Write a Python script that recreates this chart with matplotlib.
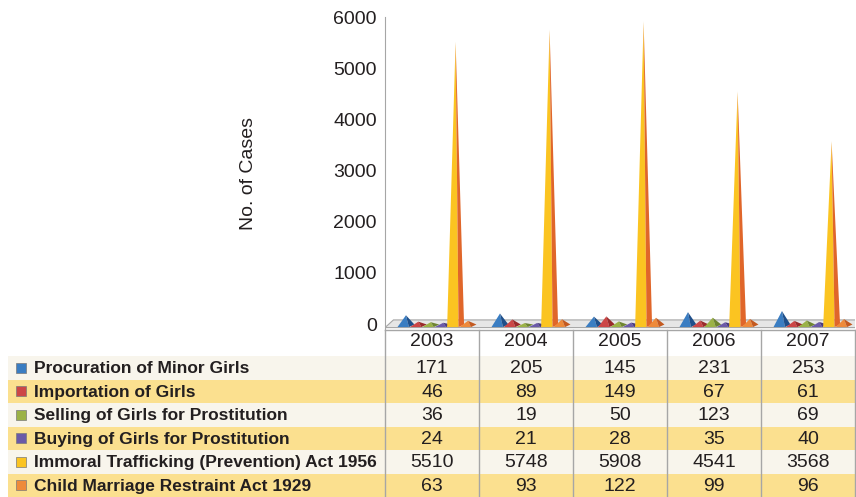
import matplotlib.pyplot as plt
from matplotlib.patches import Polygon, Rectangle

years = ["2003", "2004", "2005", "2006", "2007"]
series = [
    "Procuration of Minor Girls",
    "Importation of Girls",
    "Selling of Girls for Prostitution",
    "Buying of Girls for Prostitution",
    "Immoral Trafficking (Prevention) Act 1956",
    "Child Marriage Restraint Act 1929",
]
procuration = [171, 205, 145, 231, 253]
importation = [46, 89, 149, 67, 61]
selling = [36, 19, 50, 123, 69]
buying = [24, 21, 28, 35, 40]
immoral = [5510, 5748, 5908, 4541, 3568]
child_marriage = [63, 93, 122, 99, 96]
values = [procuration, importation, selling, buying, immoral, child_marriage]

colors = ["#3A7DC2", "#CC4646", "#9BB246", "#6B5AA8", "#FBC421", "#EE8A3A"]
side_colors = ["#1F4F8A", "#9A2A2A", "#6E8430", "#473A80", "#E0662A", "#C45A20"]

W, H = 856, 497
fig = plt.figure(figsize=(W / 100, H / 100), dpi=100)

# table / background layer in pixel coordinates
tax = fig.add_axes([0, 0, 1, 1])
tax.set_xlim(0, W)
tax.set_ylim(H, 0)
tax.axis("off")

col_x0, col_w = 385, 94
row_y0, row_h = 356, 23.5
row_colors = ["#F8F5EC", "#FBE08F"]
num_font = ["Liberation Sans", "DejaVu Sans"]
lab_font = ["Liberation Sans Narrow", "Liberation Sans", "DejaVu Sans"]

for r, name in enumerate(series):
    y = row_y0 + r * row_h
    tax.add_patch(Rectangle((8, y), W - 8, row_h, facecolor=row_colors[r % 2], edgecolor="none"))
    tax.add_patch(Rectangle((16.5, y + row_h / 2 - 5), 10, 10, facecolor=colors[r],
                            edgecolor="#7A7A7A", linewidth=0.5))
    tax.text(34, y + row_h / 2 + 1, name, fontsize=12.5, fontweight="bold", family=lab_font,
             color="#231F20", ha="left", va="center")
    for c, v in enumerate(values[r]):
        tax.text(col_x0 + col_w * (c + 0.5), y + row_h / 2 + 1, str(v), fontsize=14,
                 family=num_font, color="#231F20", ha="center", va="center")

for c, yr in enumerate(years):
    tax.text(col_x0 + col_w * (c + 0.5), 342, yr, fontsize=14, family=num_font,
             color="#231F20", ha="center", va="center")

for c in range(len(years) + 1):
    x = col_x0 + col_w * c
    tax.plot([x, x], [330, H], color="#A6A6A6", linewidth=1)
tax.plot([col_x0, col_x0 + col_w * len(years)], [330, 330], color="#A6A6A6", linewidth=1)

# chart layer
ax = fig.add_axes([col_x0 / W, (H - 330) / H, col_w * len(years) / W, (330 - 17) / H])
ax.patch.set_alpha(0)
ax.set_xlim(-0.5, len(years) - 0.5)
ax.set_ylim(-117, 6000)
ax.set_yticks(range(0, 6001, 1000))
ax.set_xticks([])
ax.tick_params(axis="y", length=0, pad=6, labelsize=14, labelcolor="#231F20")
for lab in ax.get_yticklabels():
    lab.set_family(num_font)
for s in ["top", "right", "bottom"]:
    ax.spines[s].set_visible(False)
ax.spines["left"].set_color("#A6A6A6")
ax.set_ylabel("No. of Cases", fontsize=14, family=num_font, color="#231F20", labelpad=55)

# floor
skew = 0.09
ax.add_patch(Polygon([(-0.5, -70), (4.5, -70), (4.5 + skew, 80), (-0.5 + skew, 80)],
                     closed=True, facecolor="#E6E6E6", edgecolor="#A6A6A6", linewidth=0.8))

offsets = [-0.277, -0.145, -0.013, 0.119, 0.251, 0.383]
half = 0.09
base = -60
for j, vals in enumerate(values):
    for i, v in enumerate(vals):
        xc = i + offsets[j]
        left = [(xc - half, base), (xc, v), (xc + half * 0.35, base)]
        right = [(xc + half * 0.35, base), (xc, v), (xc + half, base + 50)]
        ax.add_patch(Polygon(left, closed=True, facecolor=colors[j], edgecolor="none"))
        ax.add_patch(Polygon(right, closed=True, facecolor=side_colors[j], edgecolor="none"))

fig.savefig("out.png", dpi=100)
